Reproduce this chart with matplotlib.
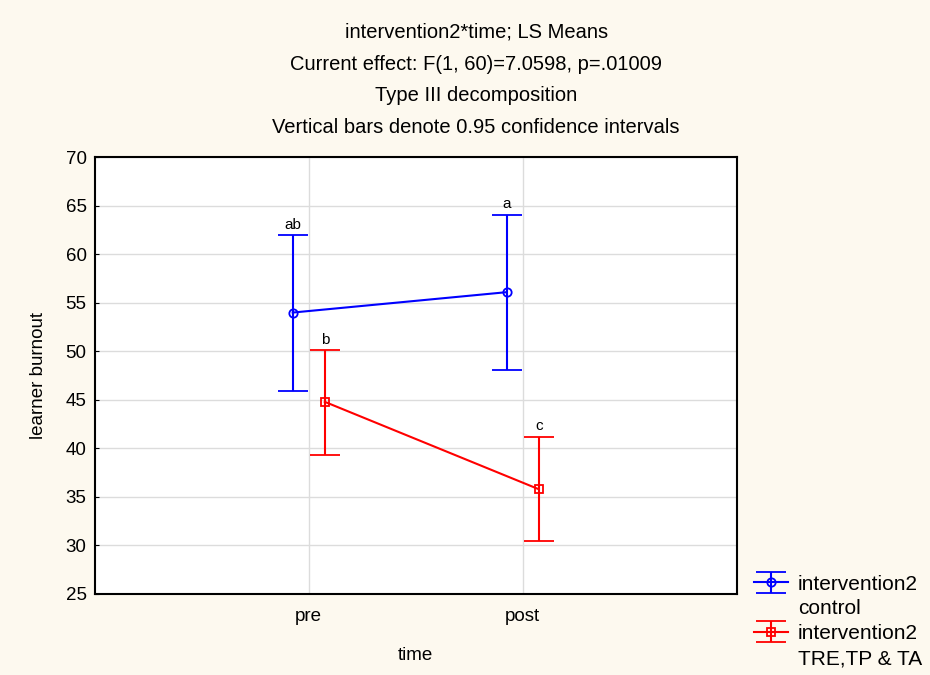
import numpy as np
import matplotlib
matplotlib.use("Agg")
import matplotlib.pyplot as plt
from matplotlib.lines import Line2D

plt.rcParams['font.family'] = ['Liberation Sans', 'DejaVu Sans']

times = ["pre", "post"]
ctrl_mean = [54.0, 56.1]
ctrl_lo = [45.9, 48.1]
ctrl_hi = [62.0, 64.1]
trt_mean = [44.8, 35.8]
trt_lo = [39.3, 30.5]
trt_hi = [50.1, 41.2]
ctrl_letters = ["ab", "a"]
trt_letters = ["b", "c"]
titles = ["intervention2*time; LS Means",
          "Current effect: F(1, 60)=7.0598, p=.01009",
          "Type III decomposition",
          "Vertical bars denote 0.95 confidence intervals"]

bg = "#fdf9ef"
fig = plt.figure(figsize=(9.3, 6.75), dpi=100, facecolor=bg)
ax = fig.add_axes([0.102, 0.12, 0.69, 0.647])
ax.set_facecolor("white")

x = np.arange(1, len(times) + 1)
off = 0.075

def draw(xs, mean, lo, hi, color, marker, letters):
    mean = np.array(mean)
    err = [mean - np.array(lo), np.array(hi) - mean]
    h = ax.errorbar(xs, mean, yerr=err, color=color, marker=marker, mfc="none",
                    mec=color, ms=6, mew=1.3, lw=1.5, capsize=11, capthick=1.5,
                    elinewidth=1.5, zorder=3)
    for xi, top, lab in zip(xs, hi, letters):
        ax.text(xi, top + 0.35, lab, ha="center", va="bottom", fontsize=11)
    return h

h1 = draw(x - off, ctrl_mean, ctrl_lo, ctrl_hi, "#0000ff", "o", ctrl_letters)
h2 = draw(x + off, trt_mean, trt_lo, trt_hi, "#ff0000", "s", trt_letters)

ax.set_xlim(0, 3)
ax.set_ylim(25, 70)
ax.set_xticks(x)
ax.set_xticklabels(times, fontsize=13.5)
ax.set_yticks(np.arange(25, 71, 5))
ax.tick_params(axis="y", labelsize=13.5, length=3, direction="in", pad=6)
ax.tick_params(axis="x", length=0, pad=10)
ax.grid(True, color="#dcdcdc", lw=1)
ax.set_axisbelow(True)
for s in ax.spines.values():
    s.set_linewidth(1.5)
ax.set_xlabel("time", fontsize=13.5, labelpad=16)
ax.set_ylabel("learner burnout", fontsize=13.5, labelpad=13)

for i, t in enumerate(titles):
    fig.text(0.512, 0.952 - i * 0.047, t, ha="center", va="center", fontsize=14.5)

blank = Line2D([], [], color="none")
fig.legend([h1, blank, h2, blank],
           ["intervention2", "control", "intervention2", "TRE,TP & TA"],
           loc="lower left", bbox_to_anchor=(0.802, -0.002), frameon=False,
           fontsize=15, handlelength=1.6, labelspacing=0.28, handletextpad=0.5,
           borderaxespad=0.0)

fig.savefig("out.png", dpi=100, facecolor=bg)
plt.close()
